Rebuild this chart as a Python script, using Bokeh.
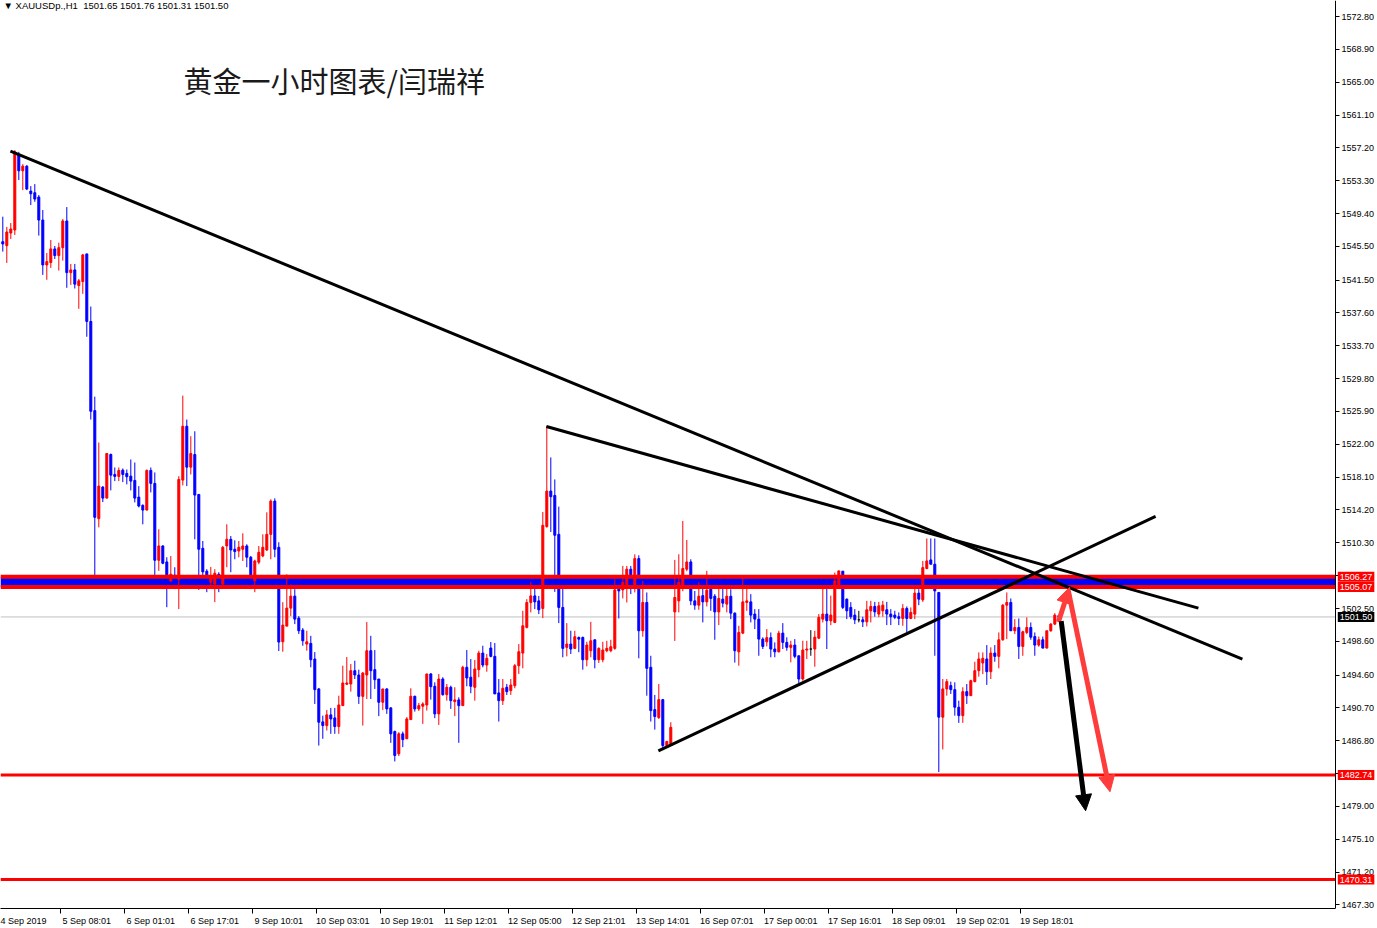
from bokeh.plotting import figure
from bokeh.models import (Range1d, FixedTicker, PrintfTickFormatter, BoxAnnotation,
                          Label, Arrow, NormalHead, ColumnDataSource)
from bokeh.embed import file_html
from bokeh.resources import INLINE

# ---------------- data (XAUUSD H1) ----------------
opens = [1546.06, 1545.59, 1547.09, 1547.45, 1556.34, 1554.48, 1555.03, 1552.07, 1551.87, 1551.36,
         1548.63, 1543.30, 1543.58, 1545.20, 1544.41, 1545.35, 1548.52, 1542.39, 1542.71, 1540.85,
         1541.32, 1544.61, 1536.59, 1526.00, 1513.17, 1516.92, 1515.61, 1520.79, 1518.42, 1518.19,
         1518.93, 1518.54, 1518.22, 1517.71, 1515.73, 1514.75, 1514.19, 1518.90, 1517.36, 1508.23,
         1509.93, 1508.03, 1505.78, 1506.45, 1505.98, 1517.75, 1524.14, 1519.29, 1520.79, 1516.05,
         1509.65, 1506.93, 1505.63, 1505.40, 1506.57, 1505.40, 1509.93, 1510.72, 1509.54, 1509.33,
         1509.54, 1509.93, 1508.59, 1505.78, 1508.00, 1508.74, 1509.45, 1511.31, 1515.26, 1509.77,
         1498.55, 1500.41, 1502.55, 1503.97, 1501.36, 1499.94, 1498.28, 1498.36, 1496.50, 1492.95,
         1489.04, 1488.60, 1489.87, 1489.51, 1488.48, 1490.97, 1493.51, 1493.54, 1495.12, 1494.61,
         1492.07, 1494.61, 1497.49, 1495.24, 1494.13, 1491.37, 1492.95, 1490.70, 1487.89, 1485.25,
         1487.62, 1487.03, 1489.31, 1492.08, 1490.58, 1490.90, 1491.05, 1494.73, 1493.27, 1489.99,
         1494.13, 1492.27, 1493.15, 1491.44, 1491.65, 1490.97, 1495.52, 1494.34, 1493.15, 1495.24,
         1497.21, 1495.79, 1497.81, 1496.82, 1492.48, 1491.56, 1493.15, 1492.75, 1493.34, 1495.71,
         1497.21, 1500.26, 1503.22, 1504.00, 1503.41, 1502.51, 1512.23, 1516.45, 1515.93, 1511.31,
         1502.63, 1497.89, 1498.28, 1497.77, 1499.06, 1499.06, 1496.42, 1497.49, 1498.79, 1496.42,
         1496.42, 1497.49, 1497.49, 1497.77, 1504.80, 1504.71, 1505.19, 1507.17, 1505.00, 1508.43,
         1499.86, 1503.22, 1495.52, 1490.50, 1489.55, 1491.68, 1486.23, 1486.43, 1502.10, 1503.41,
         1505.04, 1507.17, 1508.03, 1503.41, 1502.90, 1504.03, 1503.29, 1504.80, 1503.96, 1502.10,
         1503.61, 1503.02, 1503.96, 1501.95, 1497.36, 1499.58, 1503.22, 1503.29, 1501.84, 1501.24,
         1498.87, 1498.55, 1499.04, 1497.69, 1497.36, 1499.58, 1498.48, 1497.89, 1498.16, 1496.89,
         1494.13, 1497.57, 1497.69, 1497.69, 1498.98, 1501.24, 1501.84, 1501.05, 1500.85, 1505.19,
         1506.93, 1503.61, 1502.63, 1501.72, 1501.16, 1501.16, 1500.92, 1502.23, 1502.75, 1501.84,
         1502.23, 1502.35, 1501.84, 1501.72, 1501.53, 1501.32, 1502.51, 1501.32, 1501.84, 1504.33,
         1503.53, 1507.25, 1508.27, 1507.76, 1504.41, 1489.60, 1492.95, 1493.35, 1492.87, 1490.78,
         1489.78, 1492.63, 1492.15, 1493.82, 1495.12, 1496.03, 1496.51, 1495.00, 1497.21, 1496.82,
         1498.79, 1502.90, 1503.22, 1499.86, 1500.25, 1498.00, 1499.66, 1500.25, 1499.17, 1498.16,
         1498.79, 1497.80, 1499.86, 1500.65, 1501.65]
highs = [1549.03, 1547.81, 1548.28, 1556.93, 1556.73, 1555.27, 1555.15, 1552.66, 1552.90, 1551.60,
         1549.82, 1544.72, 1546.26, 1545.55, 1545.94, 1548.75, 1550.17, 1543.42, 1543.42, 1541.64,
         1544.61, 1544.61, 1538.36, 1527.66, 1522.21, 1517.04, 1520.91, 1520.91, 1519.25, 1519.25,
         1519.13, 1519.01, 1520.20, 1519.84, 1517.04, 1514.87, 1519.01, 1519.25, 1518.66, 1511.91,
         1510.01, 1508.59, 1508.74, 1507.40, 1518.22, 1527.78, 1524.94, 1522.96, 1523.55, 1516.05,
         1510.52, 1507.17, 1507.44, 1507.17, 1506.81, 1509.93, 1512.50, 1511.11, 1510.60, 1510.52,
         1511.43, 1510.13, 1508.74, 1508.30, 1509.93, 1511.31, 1513.92, 1515.46, 1515.58, 1510.37,
         1503.26, 1506.57, 1505.39, 1504.80, 1501.60, 1500.18, 1499.86, 1499.26, 1497.33, 1493.07,
         1489.78, 1490.46, 1490.70, 1490.70, 1492.15, 1495.71, 1496.74, 1495.91, 1496.30, 1495.24,
         1494.96, 1500.89, 1499.26, 1497.57, 1494.13, 1492.95, 1493.03, 1490.78, 1488.01, 1487.82,
         1487.89, 1489.60, 1493.03, 1492.15, 1491.29, 1491.37, 1494.73, 1494.84, 1493.74, 1494.73,
         1494.34, 1493.54, 1493.34, 1493.15, 1491.96, 1495.71, 1497.57, 1496.50, 1496.39, 1497.49,
         1498.08, 1497.10, 1498.52, 1498.40, 1494.13, 1494.13, 1493.54, 1494.13, 1495.91, 1498.28,
         1502.23, 1503.61, 1505.66, 1504.92, 1504.00, 1513.96, 1524.14, 1520.44, 1517.83, 1514.60,
         1505.00, 1500.77, 1499.86, 1499.86, 1499.18, 1499.18, 1498.55, 1500.92, 1498.79, 1497.89,
         1498.55, 1498.67, 1498.79, 1505.98, 1506.06, 1507.56, 1507.56, 1507.56, 1508.94, 1508.82,
         1505.78, 1504.41, 1496.89, 1492.24, 1493.54, 1491.76, 1486.79, 1489.00, 1508.27, 1508.94,
         1512.90, 1510.64, 1508.35, 1504.59, 1505.63, 1505.19, 1506.97, 1505.00, 1504.21, 1505.00,
         1505.00, 1505.00, 1504.80, 1502.04, 1500.45, 1506.17, 1505.00, 1504.21, 1502.43, 1502.43,
         1499.08, 1500.06, 1499.66, 1498.48, 1499.86, 1500.77, 1499.08, 1498.67, 1498.87, 1496.89,
         1498.67, 1498.67, 1499.94, 1499.86, 1501.84, 1505.00, 1505.00, 1504.03, 1506.77, 1506.97,
         1506.97, 1503.70, 1503.26, 1502.43, 1502.23, 1501.53, 1503.41, 1503.41, 1503.29, 1503.29,
         1503.41, 1503.29, 1502.43, 1502.23, 1502.04, 1503.02, 1502.75, 1502.63, 1505.00, 1504.80,
         1508.15, 1510.82, 1510.82, 1510.82, 1504.41, 1494.13, 1494.13, 1493.82, 1493.74, 1491.56,
         1493.15, 1493.54, 1494.05, 1496.18, 1497.29, 1497.29, 1498.16, 1497.89, 1498.16, 1499.66,
         1503.02, 1504.41, 1503.70, 1501.24, 1501.32, 1499.86, 1501.45, 1500.85, 1499.66, 1499.17,
         1499.17, 1499.86, 1500.77, 1501.95, 1501.76]
lows = [1544.88, 1543.54, 1546.38, 1546.86, 1553.37, 1552.19, 1552.19, 1550.41, 1550.80, 1546.78,
        1542.12, 1541.53, 1542.95, 1544.01, 1542.63, 1543.81, 1540.58, 1540.93, 1540.50, 1538.09,
        1539.87, 1534.77, 1524.94, 1506.34, 1512.14, 1515.14, 1515.58, 1516.53, 1517.63, 1517.63,
        1517.51, 1517.24, 1516.53, 1515.10, 1514.51, 1512.50, 1514.16, 1516.29, 1506.34, 1506.97,
        1507.76, 1502.66, 1505.63, 1504.80, 1502.43, 1517.12, 1517.04, 1518.42, 1510.72, 1504.71,
        1505.98, 1504.44, 1505.19, 1503.26, 1504.44, 1505.19, 1507.40, 1506.81, 1508.35, 1508.59,
        1508.15, 1507.40, 1504.80, 1504.44, 1507.76, 1508.59, 1509.33, 1508.35, 1508.59, 1497.45,
        1497.37, 1500.41, 1501.60, 1500.65, 1499.47, 1498.08, 1497.49, 1495.52, 1491.17, 1486.23,
        1487.03, 1488.01, 1487.62, 1487.62, 1487.62, 1490.97, 1493.42, 1492.63, 1494.13, 1491.17,
        1488.60, 1491.76, 1491.76, 1492.95, 1489.72, 1490.46, 1489.99, 1486.55, 1484.34, 1484.98,
        1486.04, 1487.03, 1489.31, 1490.26, 1490.34, 1488.80, 1490.38, 1491.68, 1489.48, 1488.68,
        1492.15, 1491.56, 1490.58, 1489.72, 1486.55, 1490.97, 1493.27, 1492.44, 1491.56, 1494.34,
        1495.52, 1495.00, 1496.71, 1492.36, 1489.08, 1491.05, 1492.24, 1492.24, 1493.03, 1494.73,
        1495.40, 1500.14, 1502.04, 1502.43, 1501.84, 1501.36, 1512.10, 1511.59, 1504.48, 1500.77,
        1496.71, 1496.82, 1497.10, 1497.69, 1497.31, 1495.24, 1495.64, 1496.71, 1495.40, 1496.03,
        1496.11, 1497.31, 1497.31, 1497.60, 1501.32, 1503.70, 1503.22, 1504.21, 1504.41, 1496.59,
        1499.15, 1492.15, 1489.08, 1488.12, 1489.39, 1485.93, 1486.08, 1486.43, 1498.65, 1502.04,
        1504.56, 1506.93, 1502.90, 1502.35, 1502.35, 1500.85, 1502.75, 1502.23, 1498.79, 1500.53,
        1502.63, 1502.04, 1501.24, 1496.08, 1495.71, 1499.46, 1502.23, 1500.85, 1500.06, 1496.89,
        1497.69, 1498.00, 1496.71, 1496.71, 1497.29, 1497.69, 1497.49, 1496.11, 1496.59, 1493.35,
        1493.93, 1496.51, 1496.89, 1495.59, 1498.87, 1500.85, 1497.69, 1500.53, 1500.77, 1504.80,
        1502.43, 1501.24, 1501.24, 1500.65, 1500.85, 1500.30, 1500.38, 1500.85, 1501.53, 1501.47,
        1501.53, 1500.53, 1500.53, 1501.24, 1500.53, 1500.45, 1499.66, 1501.24, 1501.24, 1502.90,
        1503.29, 1507.17, 1507.76, 1496.89, 1483.08, 1485.77, 1492.15, 1492.36, 1489.78, 1488.92,
        1488.92, 1491.17, 1492.12, 1493.74, 1494.41, 1494.72, 1493.43, 1494.13, 1496.18, 1495.40,
        1498.67, 1498.87, 1499.86, 1499.46, 1496.51, 1496.89, 1499.46, 1498.79, 1496.89, 1497.96,
        1497.80, 1497.80, 1499.74, 1500.53, 1501.31]
closes = [1545.79, 1547.21, 1547.57, 1556.73, 1554.48, 1555.03, 1552.31, 1551.75, 1551.12, 1548.63,
          1543.30, 1543.69, 1545.20, 1544.41, 1545.35, 1548.52, 1542.39, 1542.71, 1541.02, 1541.41,
          1544.49, 1536.59, 1525.92, 1513.33, 1517.04, 1515.61, 1520.91, 1518.34, 1518.19, 1518.90,
          1518.42, 1518.15, 1517.63, 1515.61, 1514.67, 1514.19, 1518.90, 1517.36, 1508.23, 1509.93,
          1507.88, 1505.98, 1506.57, 1505.74, 1517.83, 1524.14, 1519.29, 1520.91, 1515.97, 1509.54,
          1506.85, 1506.37, 1506.22, 1506.69, 1505.40, 1509.77, 1510.72, 1509.45, 1509.26, 1509.77,
          1509.93, 1508.59, 1505.63, 1508.15, 1509.18, 1509.77, 1511.31, 1515.26, 1509.54, 1498.52,
          1500.53, 1502.55, 1503.97, 1501.24, 1499.86, 1498.67, 1498.55, 1496.42, 1492.87, 1489.00,
          1488.60, 1489.87, 1489.39, 1488.48, 1491.05, 1493.66, 1493.66, 1495.12, 1494.61, 1492.07,
          1494.84, 1497.49, 1495.12, 1494.05, 1491.37, 1492.95, 1490.58, 1487.62, 1485.05, 1487.62,
          1486.94, 1489.39, 1492.08, 1490.58, 1490.97, 1491.17, 1494.73, 1493.22, 1489.99, 1494.13,
          1492.27, 1493.15, 1491.56, 1491.65, 1490.97, 1495.52, 1494.25, 1493.27, 1495.32, 1497.21,
          1495.79, 1496.59, 1496.82, 1492.36, 1491.56, 1493.03, 1492.63, 1493.42, 1495.71, 1497.37,
          1500.45, 1503.22, 1504.00, 1503.29, 1502.35, 1512.38, 1516.45, 1515.78, 1511.20, 1502.63,
          1497.77, 1498.28, 1497.69, 1499.15, 1498.86, 1496.42, 1498.16, 1498.67, 1496.42, 1497.77,
          1497.57, 1497.77, 1497.96, 1504.71, 1504.59, 1505.59, 1507.17, 1505.40, 1508.43, 1499.86,
          1503.22, 1495.40, 1490.38, 1489.67, 1491.68, 1486.23, 1486.71, 1488.39, 1503.81, 1505.59,
          1507.25, 1508.03, 1503.41, 1502.90, 1503.96, 1503.29, 1504.68, 1503.70, 1502.10, 1503.70,
          1503.14, 1503.96, 1501.95, 1497.49, 1499.66, 1503.29, 1503.41, 1501.72, 1501.24, 1498.87,
          1498.00, 1499.04, 1497.69, 1497.36, 1499.58, 1498.48, 1497.89, 1498.16, 1496.82, 1494.13,
          1497.57, 1497.69, 1497.69, 1499.10, 1501.45, 1501.84, 1501.05, 1501.72, 1505.78, 1506.97,
          1502.63, 1502.23, 1501.53, 1501.16, 1501.16, 1500.92, 1502.35, 1502.75, 1502.10, 1502.82,
          1502.90, 1501.84, 1501.53, 1501.45, 1501.32, 1502.51, 1501.32, 1502.04, 1504.33, 1503.61,
          1507.36, 1508.15, 1507.76, 1504.59, 1489.60, 1492.95, 1493.82, 1492.87, 1490.78, 1489.78,
          1492.63, 1492.15, 1493.93, 1495.12, 1496.51, 1496.59, 1495.00, 1497.21, 1496.82, 1498.79,
          1502.90, 1503.22, 1499.86, 1500.25, 1498.00, 1499.74, 1500.25, 1499.10, 1498.16, 1498.79,
          1497.80, 1499.86, 1500.65, 1501.72, 1501.50]

time_labels = ["4 Sep 2019", "5 Sep 08:01", "6 Sep 01:01", "6 Sep 17:01", "9 Sep 10:01",
               "10 Sep 03:01", "10 Sep 19:01", "11 Sep 12:01", "12 Sep 05:00", "12 Sep 21:01",
               "13 Sep 14:01", "16 Sep 07:01", "17 Sep 00:01", "17 Sep 16:01", "18 Sep 09:01",
               "19 Sep 02:01", "19 Sep 18:01"]
price_ticks = [1572.80, 1568.90, 1565.00, 1561.10, 1557.20, 1553.30, 1549.40, 1545.50, 1541.50,
               1537.60, 1533.70, 1529.80, 1525.90, 1522.00, 1518.10, 1514.20, 1510.30, 1506.40,
               1502.50, 1498.60, 1494.60, 1490.70, 1486.80, 1482.90, 1479.00, 1475.10, 1471.20,
               1467.30]

band_levels = [1506.27, 1505.07]
support_levels = [1482.74, 1470.31]
current_price = 1501.50

# trend lines drawn on the chart (bar index, price)
tl_x0 = [1.9, 135.9, 163.9]
tl_y0 = [1556.81, 1524.11, 1485.60]
tl_x1 = [309.9, 298.9, 288.2]
tl_y1 = [1496.50, 1502.55, 1513.45]

# arrows (bar index, price)
arr_x0 = [263.9, 266.4, 264.6]
arr_y0 = [1500.89, 1504.56, 1501.01]
arr_x1 = [266.7, 276.8, 270.7]
arr_y1 = [1505.03, 1480.75, 1478.49]
arr_colors = ["#FF3C3C", "#FF3C3C", "#000000"]

title_text = "黄金一小时图表/闫瑞祥"
symbol_text = "XAUUSDp.,H1"

# ---------------- figure ----------------
N = len(opens)
x_start, x_end = -0.575, 343.675      # whole canvas width
axis_x = 333.2                        # where the price scale sits
y_start, y_end = 1466.88, 1574.7

p = figure(width=1377, height=928, x_range=Range1d(x_start, x_end),
           y_range=Range1d(y_start, y_end), y_axis_location="right",
           toolbar_location=None, output_backend="svg",
           min_border_left=0, min_border_top=0, min_border_right=0, min_border_bottom=18)
p.outline_line_color = None
p.grid.visible = False
p.background_fill_color = "white"
p.border_fill_color = "white"

# x axis: labels left-aligned after tick marks (minor ticks used as the tick marks)
tick_marks = [-1.6 + 16 * k for k in range(len(time_labels))]
label_centers = [5 + 16 * k for k in range(len(time_labels))]
p.xaxis.ticker = FixedTicker(ticks=label_centers, minor_ticks=tick_marks)
p.xaxis.major_label_overrides = {c: t for c, t in zip(label_centers, time_labels)}
p.xaxis.bounds = (x_start, axis_x)
p.xaxis.major_tick_out = 0
p.xaxis.major_tick_in = 0
p.xaxis.minor_tick_out = 5
p.xaxis.minor_tick_in = 0
p.xaxis.minor_tick_line_color = "black"
p.xaxis.axis_line_color = "black"
p.xaxis.major_label_text_font = "Liberation Sans"
p.xaxis.major_label_text_font_size = "9px"
p.xaxis.major_label_text_color = "black"
p.xaxis.major_label_standoff = 2

p.yaxis.fixed_location = axis_x
p.yaxis.ticker = FixedTicker(ticks=price_ticks)
p.yaxis.formatter = PrintfTickFormatter(format="%.2f")
p.yaxis.major_tick_out = 4
p.yaxis.major_tick_in = 0
p.yaxis.minor_tick_out = 0
p.yaxis.minor_tick_in = 0
p.yaxis.axis_line_color = "black"
p.yaxis.major_label_text_font = "Liberation Sans"
p.yaxis.major_label_text_font_size = "9px"
p.yaxis.major_label_text_color = "black"
p.yaxis.major_label_standoff = 2

# background objects
p.add_layout(BoxAnnotation(left=x_start, right=axis_x, bottom=band_levels[1], top=band_levels[0],
                           fill_color="#0000FF", fill_alpha=1.0, line_color=None,
                           level="underlay"))
p.segment(x0=[x_start], y0=[current_price], x1=[axis_x], y1=[current_price],
          line_color="#C0C0C0", line_width=1, level="underlay")

# candles
colors = []
for o, c in zip(opens, closes):
    if c > o:
        colors.append("#FF0000")
    elif c < o:
        colors.append("#0000FF")
    else:
        colors.append("#000000")
src = ColumnDataSource(dict(
    x=list(range(N)), high=highs, low=lows,
    top=[max(o, c) for o, c in zip(opens, closes)],
    bottom=[min(o, c) for o, c in zip(opens, closes)],
    color=colors))
p.segment(x0="x", y0="high", x1="x", y1="low", line_color="color", line_width=1, source=src)
p.vbar(x="x", width=0.5, top="top", bottom="bottom", fill_color="color",
       line_color="color", line_width=1, source=src)

# horizontal levels
p.segment(x0=[x_start] * 2, y0=band_levels, x1=[axis_x] * 2, y1=band_levels,
          line_color="#FF0000", line_width=4)
p.segment(x0=[x_start] * 2, y0=support_levels, x1=[axis_x] * 2, y1=support_levels,
          line_color="#FF0000", line_width=3)

# trend lines
p.segment(x0=tl_x0, y0=tl_y0, x1=tl_x1, y1=tl_y1, line_color="black", line_width=3)

# arrows
for xs, ys, xe, ye, col in zip(arr_x0, arr_y0, arr_x1, arr_y1, arr_colors):
    p.add_layout(Arrow(end=NormalHead(size=16, fill_color=col, line_color=col),
                       x_start=xs, y_start=ys, x_end=xe, y_end=ye,
                       line_color=col, line_width=5))

# price tags on the price scale
for lv in band_levels + support_levels:
    p.add_layout(Label(x=axis_x + 0.55, y=lv, text="%.2f" % lv, text_color="white",
                       text_font="Liberation Sans", text_font_size="9px",
                       text_baseline="middle", text_align="left",
                       background_fill_color="#FF0000", padding=2))
p.add_layout(Label(x=axis_x + 0.55, y=current_price, text="%.2f" % current_price,
                   text_color="white", text_font="Liberation Sans", text_font_size="9px",
                   text_baseline="middle", text_align="left",
                   background_fill_color="#000000", padding=2))

# header & title
header = "\u25BC " + symbol_text + "\u00a0 " + " ".join(
    "%.2f" % v for v in (opens[-1], highs[-1], lows[-1], closes[-1]))
p.add_layout(Label(x=0.18, y=1574.11, text=header, text_font="Liberation Sans",
                   text_font_size="9.5px", text_color="black", text_baseline="middle"))
p.add_layout(Label(x=45.2, y=1565.22, text=title_text, text_font="Noto Sans CJK SC",
                   text_font_size="29px", text_color="#1a1a1a", text_baseline="middle"))

open("out.html", "w").write(file_html(p, INLINE))
